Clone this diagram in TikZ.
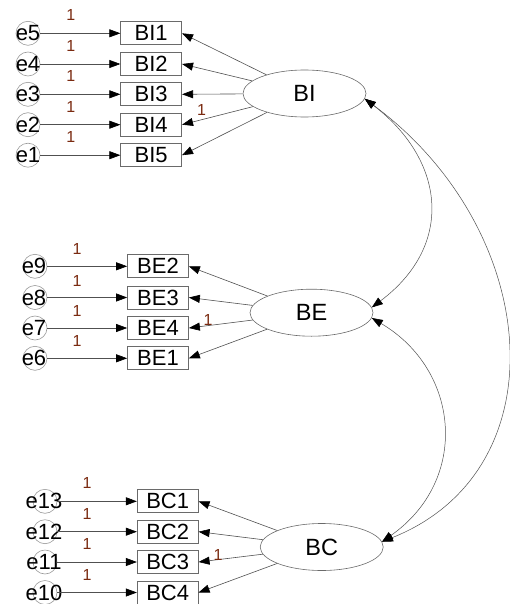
\documentclass[tikz,border=0pt]{standalone}
\usepackage{fontspec}
\setmainfont{Liberation Sans}
\usetikzlibrary{arrows.meta}
\definecolor{linec}{HTML}{505050}
\definecolor{boxc}{HTML}{6A6A6A}
\definecolor{circc}{HTML}{9A9A9A}
\definecolor{onec}{HTML}{7A2A10}
\tikzset{
  obs/.style={draw=boxc, line width=0.7pt, minimum width=61pt, minimum height=23pt, inner sep=0pt, font=\fontsize{22}{22}\selectfont},
  lat/.style={draw=boxc, line width=0.6pt, ellipse, minimum width=123pt, minimum height=47pt, inner sep=0pt, font=\fontsize{23.5}{23.5}\selectfont},
  err/.style={draw=circc, line width=0.6pt, circle, minimum size=24pt, inner sep=0pt},
  errlab/.style={inner sep=0pt, font=\fontsize{22}{22}\selectfont},
  one/.style={inner sep=0pt, text=onec, font=\fontsize{16}{16}\selectfont},
  path/.style={draw=linec, line width=0.6pt, -{Triangle[length=11pt,width=8pt,black]}},
  cov/.style={draw=linec, line width=0.5pt, {Triangle[length=11pt,width=8pt,black]}-{Triangle[length=11pt,width=8pt,black]}},
}
\usetikzlibrary{shapes.geometric}
\begin{document}
\begin{tikzpicture}[x=1pt,y=-1pt]
\useasboundingbox (0,0) rectangle (509,604);
% BI group
\node[lat] (BI) at (304.5,93.5) {BI};
\foreach \n/\y/\e in {1/33.3/5, 2/64/4, 3/94.3/3, 4/124.7/2, 5/155.2/1}{
  \node[obs] (BI\n) at (151.2,\y) {BI\n};
  \node[err] (e\e) at (28,\y) {};
  \node[errlab] at (28,\y) {e\e};
  \draw[path] (e\e) -- (BI\n);
  \node[one] at (70.7,\y-18) {1};
  \draw[path] (BI) -- (BI\n.east);
}
\node[one] at (201.5,110) {1};
% BE group
\node[lat] (BE) at (311.5,312.7) {BE};
\foreach \n/\y/\e in {2/266.3/9, 3/297.5/8, 4/328/7, 1/358.3/6}{
  \node[obs] (BE\n) at (158,\y) {BE\n};
  \node[err] (e\e) at (35,\y) {};
  \node[errlab] at (34,\y) {e\e};
  \draw[path] (e\e) -- (BE\n);
  \node[one] at (77,\y-17) {1};
  \draw[path] (BE) -- (BE\n.east);
}
\node[one] at (208,320) {1};
% BC group
\node[lat] (BC) at (321.7,547) {BC};
\foreach \n/\y/\e in {1/501.3/13, 2/531.7/12, 3/562/11, 4/592.5/10}{
  \node[obs] (BC\n) at (167.7,\y) {BC\n};
  \node[err] (e\e) at (45,\y) {};
  \node[errlab] at (44,\y) {e\e};
  \draw[path] (e\e) -- (BC\n);
  \node[one] at (87,\y-18) {1};
  \draw[path] (BC) -- (BC\n.east);
}
\node[one] at (218,555) {1};
% covariances
\draw[cov] (BI.-5) .. controls (445,160) and (455,245) .. (BE.5);
\draw[cov] (BE.-5) .. controls (460,370) and (470,480) .. (BC.5);
\draw[cov] (BI.-5) .. controls (542,230) and (562,470) .. (BC.5);
\end{tikzpicture}
\end{document}
